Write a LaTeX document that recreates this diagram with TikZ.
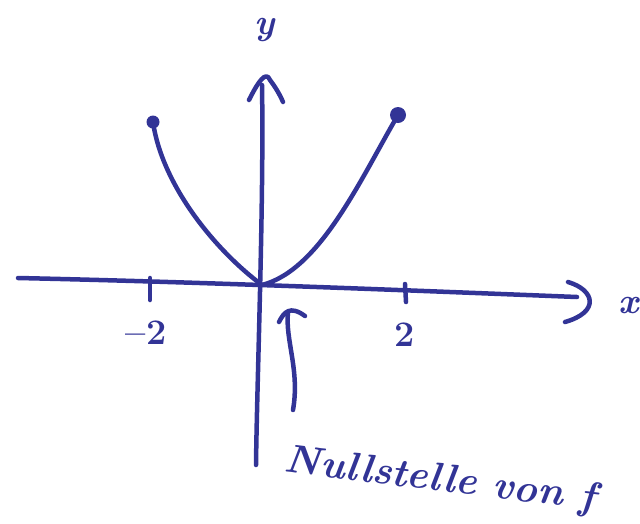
\documentclass[tikz,border=0pt]{standalone}
\usepackage{fix-cm}
\usetikzlibrary{arrows.meta}
\definecolor{ink}{RGB}{50,52,150}
\begin{document}
\begin{tikzpicture}[x=1pt,y=-1pt,
  pen/.style={draw=ink,line width=4.5pt,line cap=round,line join=round},
  lbl/.style={text=ink,inner sep=0pt,font=\fontsize{36}{40}\selectfont}]
\useasboundingbox (0,0) rectangle (640,523);
% axes
\coordinate (xs) at (18,278);
\coordinate (xe) at (577,297);
\coordinate (ys) at (256,465);
\coordinate (ye) at (262,85);
\draw[pen] (xs) .. controls (200,282) and (400,290) .. (xe);
\draw[pen] (568,282) .. controls (595,290) and (600,312) .. (565,322);
\draw[pen] (ys) .. controls (257,380) and (264,200) .. (ye);
\draw[pen] (249,100) .. controls (258,82) and (266,70) .. (270,80) .. controls (276,88) and (280,95) .. (283,102);
% ticks
\draw[pen] (150,278) -- (150,300);
\draw[pen] (405,284) -- (406,302);
% parabola
\coordinate (o) at (262,285);
\coordinate (pl) at (153,122);
\coordinate (pr) at (398,115);
\draw[pen] (pl) .. controls (162,185) and (215,250) .. (o) .. controls (320,270) and (360,180) .. (pr);
\fill[ink] (pl) circle (6.5);
\fill[ink] (pr) circle (8);
% labels
\node[lbl] (ylab) at (265,30) {\bfseries\itshape y};
\node[lbl,anchor=west] (xlab) at (618,306) {\bfseries\itshape x};
\node[lbl] (m2) at (146,333) {\bfseries\textendash2};
\node[lbl] (p2) at (405,335) {\bfseries 2};
% annotation
\node[lbl,rotate=-7,anchor=west,font=\fontsize{40}{44}\selectfont\bfseries\itshape] (txt) at (285,462) {Nullstelle von f};
\coordinate (arrs) at (293,410);
\draw[pen] (arrs) .. controls (300,370) and (285,340) .. (288,312);
\draw[pen] (279,322) .. controls (284,312) and (290,305) .. (305,316);
\end{tikzpicture}
\end{document}
